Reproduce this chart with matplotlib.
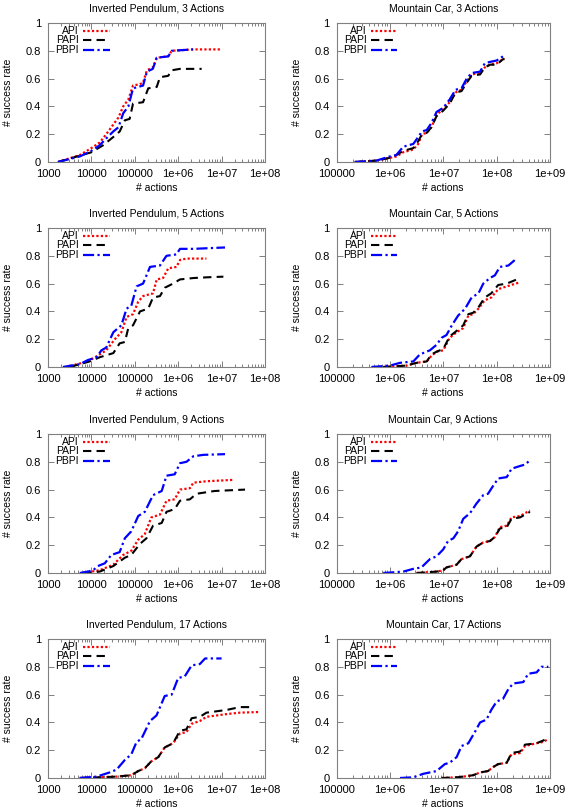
import matplotlib
matplotlib.use("Agg")
import matplotlib.pyplot as plt
from matplotlib.ticker import LogLocator, NullFormatter

plt.rcParams["font.family"] = ["Liberation Sans", "DejaVu Sans"]

# ---- Inverted Pendulum, 3 actions
ip3_api_x = [1.7e3, 5.4e3, 1e4, 1.55e4, 2.2e4, 3.2e4, 4.2e4, 5.4e4, 7.1e4, 9.1e4, 1.3e5,
             1.55e5, 1.9e5, 2.6e5, 3.2e5, 5.9e5, 7.1e5, 2.2e6, 1e7]
ip3_api_y = [0, 0.05, 0.1, 0.14, 0.2, 0.27, 0.32, 0.4, 0.45, 0.55, 0.56, 0.57, 0.66, 0.68,
             0.75, 0.76, 0.8, 0.81, 0.81]
ip3_papi_x = [1.7e3, 1e4, 1.85e4, 3.2e4, 4.5e4, 5.9e4, 7.6e4, 9.1e4, 1.55e5, 2.04e5, 3.2e5,
              3.8e5, 5.9e5, 7.1e5, 1.1e6, 3.47e6]
ip3_papi_y = [0, 0.07, 0.12, 0.18, 0.22, 0.3, 0.31, 0.42, 0.43, 0.53, 0.54, 0.61, 0.62, 0.66,
              0.67, 0.67]
ip3_pbpi_x = [1.7e3, 5.4e3, 1e4, 1.55e4, 2.2e4, 3.2e4, 4.2e4, 5.4e4, 7.1e4, 9.1e4, 1.55e5,
              1.9e5, 2.6e5, 3.2e5, 5.9e5, 7.1e5, 2.2e6]
ip3_pbpi_y = [0, 0.04, 0.08, 0.12, 0.17, 0.22, 0.25, 0.35, 0.4, 0.53, 0.55, 0.65, 0.67, 0.75,
              0.76, 0.8, 0.81]

# ---- Mountain Car, 3 actions
mc3_x = [2.2e5, 5.6e5, 1e6, 1.32e6, 1.78e6, 2.75e6, 3.4e6, 4e6, 4.9e6, 6e6, 7.5e6, 1e7,
         1.32e7, 1.7e7, 2.2e7, 2.75e7, 3.4e7, 4.9e7, 6e7, 7.5e7, 1e8, 1.32e8, 1.4e8]
mc3_api_y = [0, 0.01, 0.03, 0.04, 0.07, 0.09, 0.13, 0.2, 0.21, 0.25, 0.34, 0.38, 0.43, 0.5,
             0.52, 0.58, 0.63, 0.64, 0.68, 0.7, 0.71, 0.74, 0.74]
mc3_papi_y = [0, 0.01, 0.03, 0.05, 0.08, 0.1, 0.15, 0.2, 0.21, 0.25, 0.33, 0.37, 0.42, 0.5,
              0.51, 0.57, 0.62, 0.63, 0.68, 0.7, 0.7, 0.74, 0.74]
mc3_pbpi_y = [0, 0.01, 0.04, 0.05, 0.11, 0.13, 0.18, 0.22, 0.23, 0.28, 0.36, 0.39, 0.45, 0.52,
              0.53, 0.6, 0.64, 0.65, 0.71, 0.72, 0.73, 0.76, 0.77]

# ---- Inverted Pendulum, 5 actions
ip5_api_x = [2.6e3, 8.3e3, 1.55e4, 2.2e4, 3.47e4, 4.9e4, 6.46e4, 9.1e4, 1.2e5, 1.55e5, 2.63e5,
             3.2e5, 4.47e5, 5.9e5, 9.1e5, 1.1e6, 1.55e6, 4.47e6]
ip5_api_y = [0, 0.04, 0.09, 0.12, 0.2, 0.25, 0.36, 0.38, 0.47, 0.51, 0.53, 0.63, 0.64, 0.71,
             0.72, 0.77, 0.78, 0.78]
ip5_papi_x = [3.2e3, 9.1e3, 1.55e4, 3.2e4, 4.47e4, 5.9e4, 7.08e4, 9.1e4, 1.32e5, 2.04e5, 2.63e5,
              3.8e5, 4.9e5, 7.6e5, 1.1e6, 2.24e6, 4.47e6, 1.1e7]
ip5_papi_y = [0, 0.04, 0.07, 0.1, 0.17, 0.18, 0.28, 0.3, 0.4, 0.42, 0.5, 0.51, 0.57, 0.6,
              0.63, 0.64, 0.645, 0.65]
ip5_pbpi_x = [2.2e3, 5.4e3, 8.3e3, 1.32e4, 1.7e4, 2.2e4, 3.2e4, 4.9e4, 6.46e4, 8.3e4, 1.1e5,
              1.55e5, 2.24e5, 3.8e5, 5.37e5, 9.1e5, 1.1e6, 2.24e6, 1.2e7]
ip5_pbpi_y = [0, 0.02, 0.05, 0.07, 0.12, 0.14, 0.25, 0.3, 0.42, 0.44, 0.58, 0.6, 0.72, 0.73,
              0.8, 0.81, 0.85, 0.85, 0.86]

# ---- Mountain Car, 5 actions
mc5_x = [7.5e5, 2.04e6, 3.16e6, 4.9e6, 6e6, 7.5e6, 1e7, 1.32e7, 1.78e7, 2.37e7, 2.95e7,
         3.63e7, 4.57e7, 6e7, 7.94e7, 1.07e8, 1.55e8, 2.75e8]
mc5_api_y = [0, 0.01, 0.03, 0.04, 0.08, 0.11, 0.12, 0.21, 0.25, 0.28, 0.37, 0.38, 0.42, 0.48,
             0.5, 0.56, 0.58, 0.61]
mc5_papi_y = [0, 0.01, 0.03, 0.04, 0.09, 0.11, 0.13, 0.22, 0.26, 0.3, 0.38, 0.39, 0.43, 0.5,
              0.53, 0.59, 0.6, 0.64]
mc5_pbpi_x = [4.5e5, 1e6, 1.55e6, 2.75e6, 3.63e6, 5.62e6, 7.5e6, 9.3e6, 1.15e7, 1.45e7, 1.9e7,
              2.57e7, 3.4e7, 4.57e7, 5.62e7, 7.5e7, 9.3e7, 1.15e8, 1.66e8, 2.2e8]
mc5_pbpi_y = [0, 0.01, 0.03, 0.04, 0.09, 0.12, 0.16, 0.21, 0.23, 0.3, 0.37, 0.42, 0.5, 0.53,
              0.6, 0.64, 0.66, 0.72, 0.73, 0.77]

# ---- Inverted Pendulum, 9 actions
ip9_api_x = [6.5e3, 1.55e4, 3.2e4, 5.4e4, 8.3e4, 1.2e5, 1.7e5, 2.4e5, 3.8e5, 5.37e5, 8.3e5,
             1.1e6, 1.86e6, 2.24e6, 4.47e6, 1.86e7]
ip9_api_y = [0, 0.02, 0.06, 0.13, 0.16, 0.24, 0.28, 0.4, 0.42, 0.52, 0.53, 0.6, 0.61, 0.65,
             0.66, 0.67]
ip9_papi_x = [6.5e3, 1.55e4, 3.2e4, 5.9e4, 8.3e4, 1.32e5, 1.86e5, 2.63e5, 4.17e5, 5.37e5, 8.3e5,
              1.1e6, 1.86e6, 2.63e6, 6.9e6, 3.47e7]
ip9_papi_y = [0, 0.01, 0.05, 0.11, 0.13, 0.21, 0.25, 0.34, 0.36, 0.44, 0.46, 0.52, 0.53, 0.57,
              0.59, 0.6]
ip9_pbpi_x = [5.4e3, 8.3e3, 1.1e4, 1.41e4, 2.04e4, 2.88e4, 4.47e4, 5.9e4, 8.3e4, 1.2e5, 1.7e5,
              2.63e5, 4.17e5, 5.37e5, 8.3e5, 1.1e6, 1.55e6, 2.24e6, 3.8e6, 1.2e7]
ip9_pbpi_y = [0, 0.01, 0.02, 0.05, 0.07, 0.13, 0.15, 0.25, 0.3, 0.41, 0.44, 0.56, 0.59, 0.7,
              0.71, 0.79, 0.8, 0.84, 0.85, 0.855]

# ---- Mountain Car, 9 actions
mc9_x = [3.16e6, 7.5e6, 1e7, 1.15e7, 1.78e7, 2.2e7, 3.16e7, 4.2e7, 5.62e7, 7.5e7, 9.3e7,
         1.15e8, 1.55e8, 1.9e8, 2.75e8, 4.2e8]
mc9_api_y = [0, 0.01, 0.02, 0.04, 0.06, 0.1, 0.12, 0.19, 0.22, 0.23, 0.26, 0.33, 0.34, 0.4,
             0.41, 0.45]
mc9_papi_y = [0, 0.01, 0.02, 0.04, 0.06, 0.1, 0.12, 0.19, 0.22, 0.23, 0.26, 0.32, 0.33, 0.39,
              0.4, 0.44]
mc9_pbpi_x = [7.5e5, 1.78e6, 2.75e6, 3.9e6, 5.62e6, 7.5e6, 1e7, 1.23e7, 1.55e7, 1.9e7, 2.37e7,
              3.16e7, 4.2e7, 5.62e7, 6.9e7, 8.7e7, 1.07e8, 1.55e8, 1.9e8, 2.75e8, 3.4e8, 4.2e8]
mc9_pbpi_y = [0, 0.01, 0.03, 0.04, 0.1, 0.12, 0.17, 0.23, 0.25, 0.3, 0.39, 0.43, 0.5, 0.56,
              0.57, 0.63, 0.68, 0.69, 0.75, 0.77, 0.78, 0.81]

# ---- Inverted Pendulum, 17 actions
ip17_api_x = [5.4e3, 1.55e4, 3.8e4, 8.3e4, 1.2e5, 1.7e5, 2.4e5, 3.47e5, 4.9e5, 7.6e5, 1.1e6,
              1.55e6, 2.04e6, 3.16e6, 4.47e6, 1.32e7, 2.63e7, 7.6e7]
ip17_api_y = [0, 0.005, 0.01, 0.02, 0.05, 0.07, 0.12, 0.15, 0.22, 0.25, 0.32, 0.33, 0.39,
              0.41, 0.44, 0.46, 0.47, 0.475]
ip17_papi_x = [5.4e3, 1.55e4, 3.8e4, 8.3e4, 1.2e5, 1.7e5, 2.4e5, 3.47e5, 4.9e5, 7.6e5, 1.1e6,
               1.55e6, 2.04e6, 3.16e6, 4.47e6, 1.32e7, 2.63e7, 4.47e7]
ip17_papi_y = [0, 0.005, 0.01, 0.02, 0.05, 0.07, 0.12, 0.15, 0.22, 0.25, 0.34, 0.35, 0.43,
               0.44, 0.47, 0.49, 0.51, 0.51]
ip17_pbpi_x = [5.4e3, 1.32e4, 2.63e4, 3.8e4, 5.9e4, 8.3e4, 1.1e5, 1.41e5, 2.24e5, 3.16e5, 4.9e5,
               7.08e5, 1e6, 1.41e6, 2.04e6, 3.16e6, 4.17e6, 1e7]
ip17_pbpi_y = [0, 0.01, 0.04, 0.06, 0.13, 0.17, 0.26, 0.28, 0.41, 0.45, 0.59, 0.6, 0.72, 0.73,
               0.81, 0.82, 0.86, 0.86]

# ---- Mountain Car, 17 actions
mc17_x = [9.3e6, 1.78e7, 2.37e7, 3.63e7, 4.9e7, 6.9e7, 8.7e7, 1.07e8, 1.55e8, 1.9e8, 2.75e8,
          3.4e8, 5.62e8, 7.5e8, 9.3e8]
mc17_api_y = [0, 0.005, 0.01, 0.02, 0.04, 0.05, 0.08, 0.1, 0.11, 0.17, 0.18, 0.23, 0.25, 0.26,
              0.28]
mc17_papi_y = [0, 0.005, 0.01, 0.02, 0.04, 0.05, 0.08, 0.1, 0.11, 0.18, 0.19, 0.24, 0.25, 0.27,
               0.29]
mc17_pbpi_x = [1.55e6, 2.75e6, 4.2e6, 5.62e6, 7.5e6, 1.07e7, 1.32e7, 1.78e7, 2.2e7, 2.95e7,
               3.9e7, 4.9e7, 6.46e7, 7.94e7, 1e8, 1.32e8, 1.66e8, 2.04e8, 3.16e8, 3.9e8, 5.62e8,
               6.9e8, 9.3e8]
mc17_pbpi_y = [0, 0.005, 0.03, 0.04, 0.05, 0.1, 0.11, 0.15, 0.23, 0.25, 0.33, 0.4, 0.42, 0.49,
               0.55, 0.57, 0.64, 0.68, 0.69, 0.75, 0.76, 0.8, 0.8]

ip_ticks = [1e3, 1e4, 1e5, 1e6, 1e7, 1e8]
ip_ticklabels = ["1000", "10000", "100000", "1e+06", "1e+07", "1e+08"]
mc_ticks = [1e5, 1e6, 1e7, 1e8, 1e9]
mc_ticklabels = ["100000", "1e+06", "1e+07", "1e+08", "1e+09"]
y_ticks = [0, 0.2, 0.4, 0.6, 0.8, 1.0]
y_ticklabels = ["0", "0.2", "0.4", "0.6", "0.8", "1"]

panels = [
    ("Inverted Pendulum, 3 Actions", "ip",
     (ip3_api_x, ip3_api_y), (ip3_papi_x, ip3_papi_y), (ip3_pbpi_x, ip3_pbpi_y)),
    ("Mountain Car, 3 Actions", "mc",
     (mc3_x, mc3_api_y), (mc3_x, mc3_papi_y), (mc3_x, mc3_pbpi_y)),
    ("Inverted Pendulum, 5 Actions", "ip",
     (ip5_api_x, ip5_api_y), (ip5_papi_x, ip5_papi_y), (ip5_pbpi_x, ip5_pbpi_y)),
    ("Mountain Car, 5 Actions", "mc",
     (mc5_x, mc5_api_y), (mc5_x, mc5_papi_y), (mc5_pbpi_x, mc5_pbpi_y)),
    ("Inverted Pendulum, 9 Actions", "ip",
     (ip9_api_x, ip9_api_y), (ip9_papi_x, ip9_papi_y), (ip9_pbpi_x, ip9_pbpi_y)),
    ("Mountain Car, 9 Actions", "mc",
     (mc9_x, mc9_api_y), (mc9_x, mc9_papi_y), (mc9_pbpi_x, mc9_pbpi_y)),
    ("Inverted Pendulum, 17 Actions", "ip",
     (ip17_api_x, ip17_api_y), (ip17_papi_x, ip17_papi_y), (ip17_pbpi_x, ip17_pbpi_y)),
    ("Mountain Car, 17 Actions", "mc",
     (mc17_x, mc17_api_y), (mc17_x, mc17_papi_y), (mc17_pbpi_x, mc17_pbpi_y)),
]

names = ["API", "PAPI", "PBPI"]
styles = [
    dict(color="#ff0000", linestyle=(0, (1, 1)), linewidth=1.6),
    dict(color="black", linestyle=(0, (4, 2.5)), linewidth=1.5),
    dict(color="#0000ff", linestyle=(0, (5, 1.5, 1, 1.5)), linewidth=1.6),
]

W, H = 573, 811
fig = plt.figure(figsize=(W / 100, H / 100), dpi=100)

col_left = [48 / W, 336.5 / W]
col_width = [217 / W, 213.5 / W]
row_bottom_px = [162, 367, 573, 778]
ax_h = 139 / H
frame = "#808080"

for i, (title, kind, *series) in enumerate(panels):
    r, c = divmod(i, 2)
    ax = fig.add_axes([col_left[c], 1 - row_bottom_px[r] / H, col_width[c], ax_h])
    ax.set_xscale("log")

    for (x, y), st in zip(series, styles):
        ax.plot(x, y, **st)

    if kind == "ip":
        ax.set_xlim(1e3, 1e8)
        ax.set_xticks(ip_ticks)
        ax.set_xticklabels(ip_ticklabels)
    else:
        ax.set_xlim(1e5, 1e9)
        ax.set_xticks(mc_ticks)
        ax.set_xticklabels(mc_ticklabels)
    ax.xaxis.set_minor_locator(LogLocator(base=10, subs=range(2, 10)))
    ax.xaxis.set_minor_formatter(NullFormatter())
    ax.set_ylim(0, 1)
    ax.set_yticks(y_ticks)
    ax.set_yticklabels(y_ticklabels)

    ax.tick_params(which="both", direction="in", top=True, right=True, labelsize=8,
                   width=0.7, color=frame, labelcolor="black")
    ax.tick_params(axis="x", pad=5)
    ax.tick_params(axis="y", pad=5)
    ax.tick_params(which="major", length=4)
    ax.tick_params(which="minor", length=2)
    for sp in ax.spines.values():
        sp.set_linewidth(0.8)
        sp.set_color(frame)

    ax.set_title(title, fontsize=7.5, pad=8)
    ax.set_xlabel("# actions", fontsize=7.5, labelpad=3)
    ax.set_ylabel("# success rate", fontsize=7.5, labelpad=9)

    # gnuplot style key: right-justified text followed by line sample
    for k, (name, st) in enumerate(zip(names, styles)):
        yk = 0.945 - k * 0.07
        ax.text(0.143, yk, name, transform=ax.transAxes, ha="right", va="center",
                fontsize=7.5)
        ax.plot([0.162, 0.285], [yk, yk], transform=ax.transAxes, clip_on=False, **st)

fig.savefig("out.png", dpi=100)
